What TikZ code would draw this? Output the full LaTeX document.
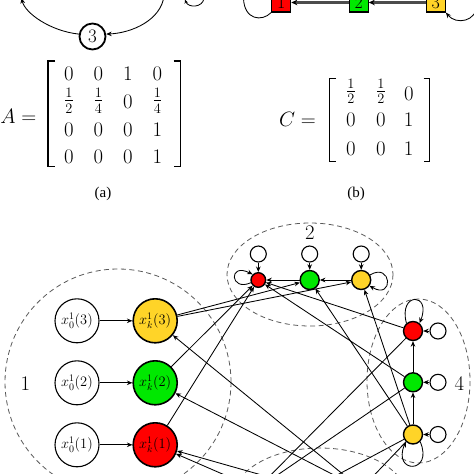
\documentclass[tikz,border=0pt]{standalone}
\usepackage{amsmath}
\usepackage{fontspec}
\newfontfamily\capfont{Liberation Serif}
\usetikzlibrary{arrows.meta}
\definecolor{nred}{RGB}{255,0,0}
\definecolor{ngreen}{RGB}{0,232,0}
\definecolor{nyellow}{RGB}{255,212,40}
\begin{document}
\begin{tikzpicture}[x=1pt,y=-1pt,
  conn/.style={line width=0.85pt,-{Stealth[length=5.5pt,width=4.6pt]}},
  plain/.style={line width=0.85pt},
  grp/.style={draw=black!65,line width=0.8pt,dash pattern=on 5pt off 3.5pt},
  mfont/.style={inner sep=0pt,font=\fontsize{20.5}{24}\selectfont},
  lab/.style={inner sep=0pt,font=\fontsize{20.5}{24}\selectfont},
  wnode/.style={circle,draw,fill=white,line width=1.1pt,minimum size=44pt,inner sep=0pt,font=\fontsize{14.4}{16}\selectfont},
  knode/.style={circle,draw,line width=1.6pt,minimum size=44pt,inner sep=0pt,font=\fontsize{14.4}{16}\selectfont},
  cnode/.style={circle,draw,line width=1.4pt,minimum size=19pt,inner sep=0pt},
  snode/.style={circle,draw,line width=1.4pt,minimum size=14.6pt,inner sep=0pt},
  inode/.style={circle,draw,fill=white,line width=1.1pt,minimum size=16pt,inner sep=0pt},
  sq/.style={draw,line width=1.2pt,minimum size=19pt,inner sep=0pt,font=\fontsize{18}{20}\selectfont},
  bar/.style={draw=black!70,line width=2.6pt,-{Stealth[length=6pt,width=5.5pt,color=black]}},
  captxt/.style={inner sep=0pt,font=\capfont\fontsize{15}{17}\selectfont}
]
\useasboundingbox (0,0) rectangle (474,474);
\clip (0,0) rectangle (474,474);

% ---------- (a) top-left ----------
\node[circle,draw,line width=1.8pt,minimum size=26pt,inner sep=0pt,font=\fontsize{19}{21}\selectfont] (n3) at (92.5,36.5) {3};
\coordinate (a1) at (21.5,-2);
\coordinate (a2) at (164,-4);
\coordinate (lp1) at (204,-2);
\coordinate (lp2) at (185,-0.5);
\draw[conn] (n3.170) .. controls (50,31) and (25,13) .. (a1);
\draw[conn] (a2) .. controls (161,20) and (132,33) .. (n3.10);
\draw[line width=0.85pt,-{Stealth[length=4pt,width=3.5pt]}] (lp1) .. controls (203,8) and (188,8) .. (lp2);

% matrix A
\node[mfont,anchor=base east] (Aeq) at (36.5,123) {$A =$};
\node[mfont,anchor=base] (a11) at (69,80) {$0$};
\node[mfont,anchor=base] (a12) at (98.5,80) {$0$};
\node[mfont,anchor=base] (a13) at (128,80) {$1$};
\node[mfont,anchor=base] (a14) at (157.5,80) {$0$};
\node[mfont] (a21) at (69,100.8) {$\tfrac{1}{2}$};
\node[mfont] (a22) at (98.5,100.8) {$\tfrac{1}{4}$};
\node[mfont,anchor=base] (a23) at (128,108.3) {$0$};
\node[mfont] (a24) at (157.5,100.8) {$\tfrac{1}{4}$};
\node[mfont,anchor=base] (a31) at (69,136.7) {$0$};
\node[mfont,anchor=base] (a32) at (98.5,136.7) {$0$};
\node[mfont,anchor=base] (a33) at (128,136.7) {$0$};
\node[mfont,anchor=base] (a34) at (157.5,136.7) {$1$};
\node[mfont,anchor=base] (a41) at (69,163.3) {$0$};
\node[mfont,anchor=base] (a42) at (98.5,163.3) {$0$};
\node[mfont,anchor=base] (a43) at (128,163.3) {$0$};
\node[mfont,anchor=base] (a44) at (157.5,163.3) {$1$};
\draw[line width=1.1pt] (55,61) -- (48,61) -- (48,166.7) -- (55,166.7);
\draw[line width=1.1pt] (173.5,61) -- (180.5,61) -- (180.5,166.7) -- (173.5,166.7);
\node[captxt] (capa) at (103,194) {(a)};

% ---------- (b) top-right ----------
\node[sq,fill=nred] (s1) at (281.2,2.5) {1};
\node[sq,fill=ngreen] (s2) at (358.7,2.5) {2};
\node[sq,fill=nyellow] (s3) at (435.8,2.5) {3};
\draw[bar] (s2) -- (s1);
\draw[bar] (s3) -- (s2);
\coordinate (b1) at (243.5,-2);
\coordinate (b3) at (477,4);
\draw[plain] (s1.south west) .. controls (262,22) and (244,20) .. (b1);
\draw[conn] (b3) .. controls (477,22) and (456,25) .. (s3.south east);

% matrix C
\node[mfont,anchor=base east] (Ceq) at (316,126.7) {$C =$};
\node[mfont] (c11) at (351,91.5) {$\tfrac{1}{2}$};
\node[mfont] (c12) at (381,91.5) {$\tfrac{1}{2}$};
\node[mfont,anchor=base] (c13) at (409,100) {$0$};
\node[mfont,anchor=base] (c21) at (350.8,126.7) {$0$};
\node[mfont,anchor=base] (c22) at (380.8,126.7) {$0$};
\node[mfont,anchor=base] (c23) at (408.7,126.7) {$1$};
\node[mfont,anchor=base] (c31) at (350.8,155) {$0$};
\node[mfont,anchor=base] (c32) at (380.8,155) {$0$};
\node[mfont,anchor=base] (c33) at (408.7,155) {$1$};
\draw[line width=1.1pt] (336,78.3) -- (329.7,78.3) -- (329.7,161.7) -- (336,161.7);
\draw[line width=1.1pt] (423.7,78.3) -- (429.7,78.3) -- (429.7,161.7) -- (423.7,161.7);
\node[captxt] (capb) at (356,194) {(b)};

% ---------- bottom network ----------
\draw[grp] (118,382) circle[radius=113];
\draw[grp] (310,274.5) ellipse[x radius=83,y radius=51.5];
\draw[grp] (418.5,381) ellipse[x radius=51.5,y radius=82];
\draw[grp] (320,500) ellipse[x radius=88,y radius=52];

\node[lab] (l1) at (25.5,383.5) {$1$};
\node[lab] (l2) at (310,233.3) {$2$};
\node[lab] (l4) at (459.5,384) {$4$};

% group 1
\node[wnode] (w13) at (77,320.8) {$x_0^1(3)$};
\node[wnode] (w12) at (77,382.8) {$x_0^1(2)$};
\node[wnode] (w11) at (77,444.8) {$x_0^1(1)$};
\node[knode,fill=nyellow] (k13) at (155.2,320.8) {$x_k^1(3)$};
\node[knode,fill=ngreen] (k12) at (155.2,382.8) {$x_k^1(2)$};
\node[knode,fill=nred] (k11) at (155.2,444.8) {$x_k^1(1)$};
\draw[conn] (w13) -- (k13);
\draw[conn] (w12) -- (k12);
\draw[conn] (w11) -- (k11);

% group 2
\node[snode,fill=nred] (r2) at (258.3,280) {};
\node[cnode,fill=ngreen] (g2) at (309.7,280) {};
\node[cnode,fill=nyellow] (y2) at (361.2,280) {};
\node[inode] (i2r) at (258.3,254) {};
\node[inode] (i2g) at (309.7,254) {};
\node[inode] (i2y) at (361.2,254) {};
\draw[conn] (i2r) -- (r2);
\draw[conn] (i2g) -- (g2);
\draw[conn] (i2y) -- (y2);
\draw[conn] (g2) -- (r2);
\draw[conn] (y2) -- (g2);
\draw[conn] (r2.200) .. controls (230,292) and (228,262) .. (r2.135);
\draw[conn] (y2.30) .. controls (392,262) and (394,300) .. (y2.-35);

% group 4
\node[cnode,fill=nred] (r4) at (413,331) {};
\node[cnode,fill=ngreen] (g4) at (413,382.3) {};
\node[cnode,fill=nyellow] (y4) at (413,434.5) {};
\node[inode] (i4r) at (438,331) {};
\node[inode] (i4g) at (438,382.3) {};
\node[inode] (i4y) at (438,434.5) {};
\draw[conn] (i4r) -- (r4);
\draw[conn] (i4g) -- (g4);
\draw[conn] (i4y) -- (y4);
\draw[conn] (g4) -- (r4);
\draw[conn] (y4) -- (g4);
\draw[conn] (r4.130) .. controls (398,292) and (432,292) .. (r4.50);
\draw[conn] (y4.-45) .. controls (434,474) and (392,474) .. (y4.-135);

% group 3 (below the frame)
\node[snode,fill=nred] (r3) at (257,489) {};
\node[cnode,fill=ngreen] (g3) at (311,489) {};
\node[cnode,fill=nyellow] (y3) at (361,489) {};

% inter-group arrows
\draw[conn] (k13) -- (g2);
\draw[conn] (k13) -- (y2);
\draw[conn] (k12) -- (r2);
\draw[conn] (k11) -- (r2);
\draw[conn] (r4) -- (r2);
\draw[conn] (g4) -- (r2);
\draw[conn] (y4) -- (g2);
\draw[conn] (y4) -- (y2);
\draw[conn] (r3) -- (k11);
\draw[conn] (g3) -- (k11);
\draw[conn] (y3) -- (k12);
\draw[conn] (y3) -- (k13);
\draw[conn] (r4) -- (r3);
\draw[conn] (g4) -- (r3);
\draw[conn] (y4) -- (g3);
\draw[conn] (y4) -- (y3);
\end{tikzpicture}
\end{document}
